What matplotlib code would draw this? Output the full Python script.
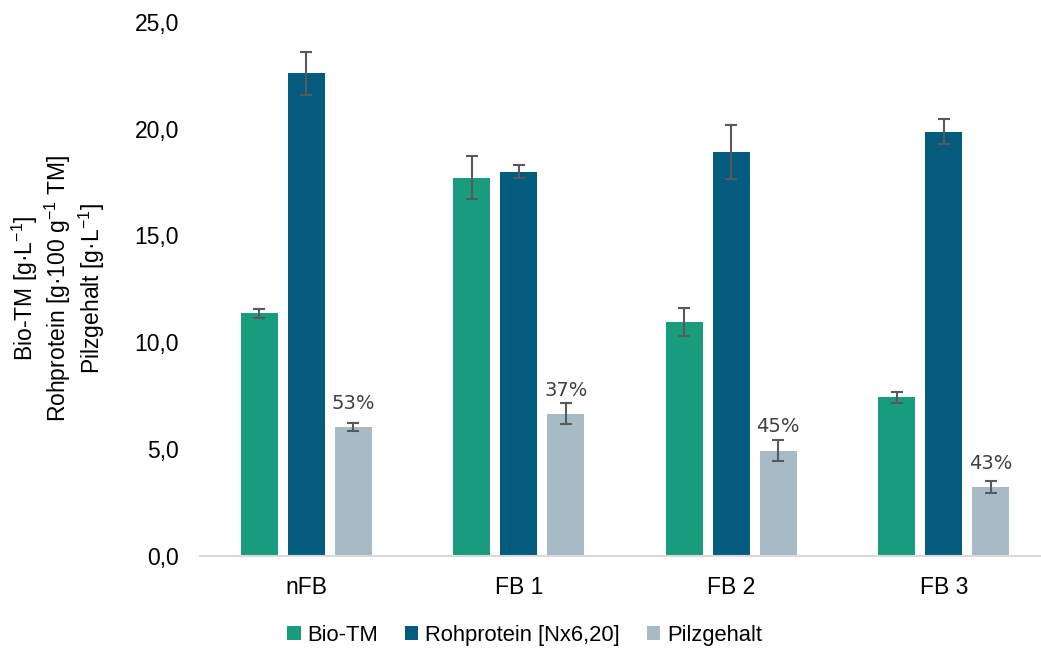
import matplotlib
matplotlib.use("Agg")
import matplotlib.pyplot as plt
import numpy as np

plt.rcParams['font.family'] = ['Liberation Sans', 'DejaVu Sans']
plt.rcParams['mathtext.fontset'] = 'custom'
plt.rcParams['mathtext.rm'] = 'Liberation Sans'
plt.rcParams['mathtext.it'] = 'Liberation Sans:italic'
plt.rcParams['mathtext.bf'] = 'Liberation Sans:bold'

categories = ["nFB", "FB 1", "FB 2", "FB 3"]
series_names = ["Bio-TM", "Rohprotein [Nx6,20]", "Pilzgehalt"]
bio_tm = [11.35, 17.7, 10.95, 7.42]
bio_tm_err = [0.2, 1.0, 0.67, 0.26]
rohprotein = [22.6, 17.99, 18.91, 19.86]
rohprotein_err = [1.0, 0.3, 1.27, 0.6]
pilzgehalt = [6.04, 6.65, 4.92, 3.22]
pilzgehalt_err = [0.19, 0.5, 0.5, 0.28]
pilz_labels = ["53%", "37%", "45%", "43%"]
yticks = [0, 5, 10, 15, 20, 25]
ytick_labels = ["0,0", "5,0", "10,0", "15,0", "20,0", "25,0"]

colors = ["#189C7D", "#035B7E", "#A7BBC7"]
err_color = "#595959"

fig = plt.figure(figsize=(10.41, 6.5), dpi=100)
ax = fig.add_axes([200/1041, 94.5/650, 850/1041, 533.5/650])

x = np.arange(len(categories))
width = 0.174
step = 0.221
data = [bio_tm, rohprotein, pilzgehalt]
errs = [bio_tm_err, rohprotein_err, pilzgehalt_err]
handles = []
for i, (vals, e, c, name) in enumerate(zip(data, errs, colors, series_names)):
    b = ax.bar(x + (i - 1) * step, vals, width, color=c, label=name,
               yerr=e, error_kw=dict(ecolor=err_color, elinewidth=1.5,
                                     capsize=4.5, capthick=1.5),
               zorder=2)
    handles.append(b)

for xi, v, lab in zip(x + step, pilzgehalt, pilz_labels):
    ax.annotate(lab, (xi, v), xytext=(0, 13), textcoords="offset points",
                ha="center", va="baseline", fontsize=14,
                color="#404040", family="DejaVu Sans")

ax.set_xlim(-0.5, len(categories) - 0.5)
ax.set_ylim(0, 25)
ax.set_yticks(yticks)
ax.set_yticklabels(ytick_labels)
ax.set_xticks(x)
ax.set_xticklabels(categories)
ax.tick_params(axis='both', length=0, labelsize=16.5, colors="#000000")
ax.tick_params(axis='y', pad=15)
ax.tick_params(axis='x', pad=15)
for s in ["top", "right", "left"]:
    ax.spines[s].set_visible(False)
ax.spines["bottom"].set_color("#D9D9D9")
ax.spines["bottom"].set_linewidth(1.5)

ax.set_ylabel("Bio-TM [g·L$^{-1}$]\nRohprotein [g·100 g$^{-1}$ TM]\nPilzgehalt [g·L$^{-1}$]",
              fontsize=16.5, linespacing=1.15, labelpad=20, multialignment='center')

fig.legend(handles=handles, labels=series_names, loc="center",
           bbox_to_anchor=(0.504, 0.023), ncol=3, frameon=False,
           fontsize=15.8, handlelength=0.6, handleheight=0.6,
           handletextpad=0.3, columnspacing=1.25)

fig.savefig("out.png", dpi=100)
